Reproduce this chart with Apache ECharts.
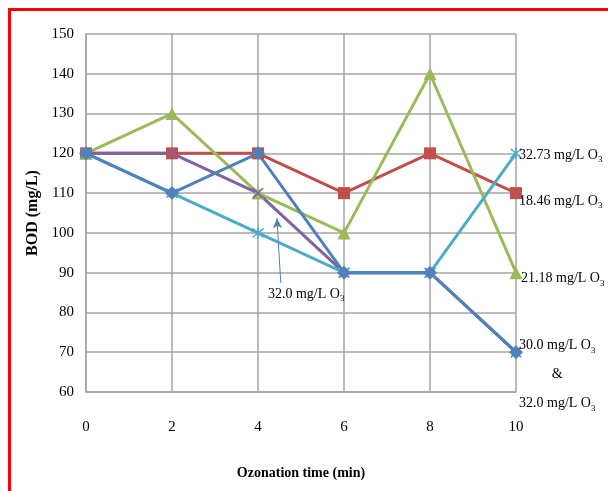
<!DOCTYPE html>
<html>
<head>
<meta charset="utf-8">
<script src="https://cdn.jsdelivr.net/npm/echarts@6/dist/echarts.min.js"></script>
<style>
html,body{margin:0;padding:0;background:#fff;}
#c{width:608px;height:491px;}
</style>
</head>
<body>
<div id="c"></div>
<script>
const xValues = [0, 2, 4, 6, 8, 10];
const bod1846 = [120, 120, 120, 110, 120, 110];
const bod2118 = [120, 130, 110, 100, 140, 90];
const bod320 = [120, 120, 110, 90, 90, 70];
const bod3273 = [120, 110, 100, 90, 90, 120];
const bod300 = [120, 110, 120, 90, 90, 70];
const xTicks = [0, 2, 4, 6, 8, 10];
const yTicks = [60, 70, 80, 90, 100, 110, 120, 130, 140, 150];

const FONT = 'Liberation Serif';
const pairs = arr => xValues.map((x, i) => [x, arr[i]]);

const rich = {
  n: {fontFamily: FONT, fontSize: 14, color: '#000', lineHeight: 18},
  s: {fontFamily: FONT, fontSize: 9, color: '#000', lineHeight: 8, verticalAlign: 'bottom'},
  n2: {fontFamily: FONT, fontSize: 14, color: '#000', lineHeight: 29},
  s2: {fontFamily: FONT, fontSize: 9, color: '#000', lineHeight: 8, verticalAlign: 'bottom', padding: [0, 0, 5, 0]},
  c: {fontFamily: FONT, fontSize: 14, color: '#000', lineHeight: 29, align: 'center'}
};

const crossPath = 'path://M0,0L10,10M10,0L0,10';
const starPath = 'path://M0,0L10,10M10,0L0,10M5,-1L5,11';

function lineSeries(name, data, color, symbol, size, extra) {
  return Object.assign({
    name: name,
    type: 'line',
    data: pairs(data),
    symbol: symbol,
    symbolSize: size,
    showSymbol: true,
    lineStyle: {color: color, width: 3},
    itemStyle: {color: color, borderColor: color, borderWidth: (symbol.indexOf('path') === 0) ? 1.5 : 0},
    emphasis: {disabled: true},
    z: 2
  }, extra || {});
}

const chart = echarts.init(document.getElementById('c'), null, {renderer: 'canvas'});
chart.setOption({
  animation: false,
  backgroundColor: '#fff',
  graphic: [{
    type: 'rect',
    shape: {x: 9.5, y: 9.5, width: 700, height: 600},
    style: {fill: 'none', stroke: '#ff0000', lineWidth: 3},
    z: 100
  }],
  grid: {left: 86, top: 34, right: 92, bottom: 99},
  xAxis: {
    type: 'value', min: 0, max: 10, interval: 2,
    name: 'Ozonation time (min)', nameLocation: 'middle', nameGap: 74,
    nameTextStyle: {fontFamily: FONT, fontWeight: 'bold', fontSize: 14, color: '#000'},
    axisLine: {show: true, lineStyle: {color: '#a5a5a5', width: 1.5}},
    axisTick: {show: false},
    axisLabel: {fontFamily: FONT, fontSize: 15, color: '#000', margin: 28,
      formatter: v => xTicks.indexOf(v) >= 0 ? String(v) : ''},
    splitLine: {show: true, lineStyle: {color: '#a5a5a5', width: 1.5}}
  },
  yAxis: {
    type: 'value', min: 60, max: 150, interval: 10,
    name: 'BOD (mg/L)', nameLocation: 'middle', nameGap: 44,
    nameTextStyle: {fontFamily: FONT, fontWeight: 'bold', fontSize: 16, color: '#000'},
    axisLine: {show: true, lineStyle: {color: '#a5a5a5', width: 1.5}},
    axisTick: {show: false},
    axisLabel: {fontFamily: FONT, fontSize: 15, color: '#000', margin: 12,
      formatter: v => yTicks.indexOf(v) >= 0 ? String(v) : ''},
    splitLine: {show: true, lineStyle: {color: '#a5a5a5', width: 1.5}}
  },
  series: [
    lineSeries('18.46 mg/L O3', bod1846, '#C0504D', 'rect', 12, {
      endLabel: {show: true, distance: 3, offset: [0, 8], formatter: '{n|18.46 mg/L O}{s|3}', rich: rich}
    }),
    lineSeries('21.18 mg/L O3', bod2118, '#9BBB59', 'triangle', 13, {
      endLabel: {show: true, distance: 5, offset: [0, 6], formatter: '{n|21.18 mg/L O}{s|3}', rich: rich}
    }),
    lineSeries('32.0 mg/L O3', bod320, '#8064A2', crossPath, 10, {
      markLine: {
        silent: true,
        symbol: ['none', 'arrow'],
        symbolSize: [7, 10],
        lineStyle: {color: '#4F81BD', width: 1, type: 'solid'},
        label: {show: false},
        data: [[{coord: [4.53, 87.4]}, {coord: [4.44, 103.7]}]]
      },
      markPoint: {
        silent: true,
        symbol: 'circle', symbolSize: 0,
        label: {show: true, position: 'inside', formatter: '{n|32.0 mg/L O}{s|3}', rich: rich},
        data: [{coord: [5.12, 84.6]}]
      }
    }),
    lineSeries('32.73 mg/L O3', bod3273, '#4BACC6', starPath, 11, {
      endLabel: {show: true, distance: 3, offset: [0, 2], formatter: '{n|32.73 mg/L O}{s|3}', rich: rich}
    }),
    lineSeries('30.0 mg/L O3', bod300, '#4F81BD', 'diamond', 14, {
      endLabel: {show: true, distance: 3, offset: [0, 22],
        formatter: '{n2|30.0 mg/L O}{s2|3}\n{c|&}\n{n2|32.0 mg/L O}{s2|3}', rich: rich}
    })
  ]
});
</script>
</body>
</html>
